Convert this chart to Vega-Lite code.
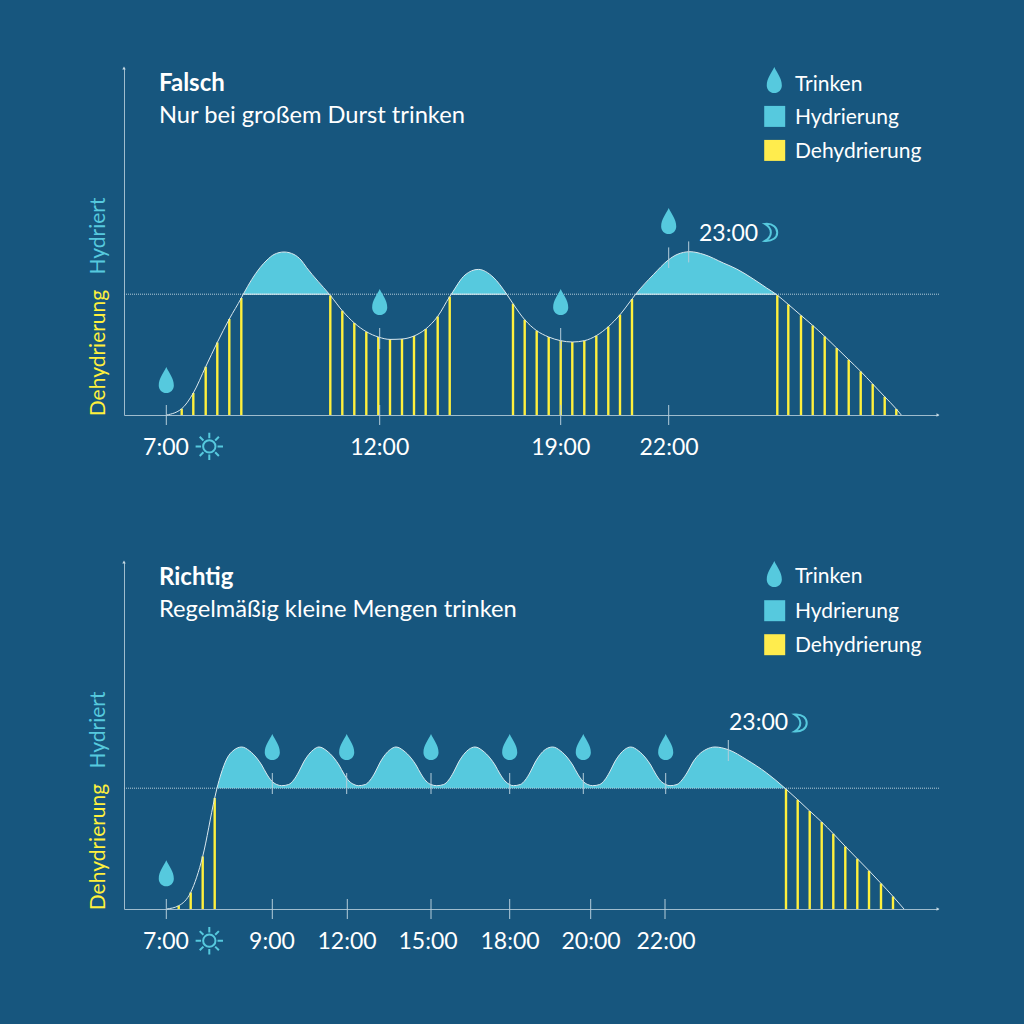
{"$schema":"https://vega.github.io/schema/vega-lite/v6.json","background":"#17567e","padding":{"left":88,"right":83,"top":66,"bottom":69},"bounds":"flush","config":{"view":{"stroke":null},"text":{"font":"Lato"}},"data":{"values":[
{"panel":"Falsch","kind":"curve","t":42.7,"level":0},
{"panel":"Falsch","kind":"curve","t":57.7,"level":6.3,"stripe":1},
{"panel":"Falsch","kind":"curve","t":69.3,"level":22,"stripe":1},
{"panel":"Falsch","kind":"curve","t":81.7,"level":48.3,"stripe":1},
{"panel":"Falsch","kind":"curve","t":93.3,"level":72.6,"stripe":1},
{"panel":"Falsch","kind":"curve","t":105.3,"level":96,"stripe":1},
{"panel":"Falsch","kind":"curve","t":117.3,"level":117,"stripe":1},
{"panel":"Falsch","kind":"curve","t":119.3,"level":120.8,"seg":1},
{"panel":"Falsch","kind":"curve","t":136,"level":147.3,"seg":1},
{"panel":"Falsch","kind":"curve","t":143,"level":155,"seg":1},
{"panel":"Falsch","kind":"curve","t":150,"level":160.5,"seg":1},
{"panel":"Falsch","kind":"curve","t":160,"level":163,"seg":1},
{"panel":"Falsch","kind":"curve","t":170,"level":160.5,"seg":1},
{"panel":"Falsch","kind":"curve","t":177,"level":155,"seg":1},
{"panel":"Falsch","kind":"curve","t":182.7,"level":147.3,"seg":1},
{"panel":"Falsch","kind":"curve","t":205.3,"level":120.8,"seg":1},
{"panel":"Falsch","kind":"curve","t":206.3,"level":119.6,"stripe":1},
{"panel":"Falsch","kind":"curve","t":218.3,"level":104.3,"stripe":1},
{"panel":"Falsch","kind":"curve","t":230.3,"level":92,"stripe":1},
{"panel":"Falsch","kind":"curve","t":242.3,"level":83.3,"stripe":1},
{"panel":"Falsch","kind":"curve","t":254.3,"level":78,"stripe":1},
{"panel":"Falsch","kind":"curve","t":266,"level":75.6,"stripe":1},
{"panel":"Falsch","kind":"curve","t":278,"level":76,"stripe":1},
{"panel":"Falsch","kind":"curve","t":290,"level":79,"stripe":1},
{"panel":"Falsch","kind":"curve","t":301.7,"level":86,"stripe":1},
{"panel":"Falsch","kind":"curve","t":313.7,"level":98.6,"stripe":1},
{"panel":"Falsch","kind":"curve","t":325.7,"level":118.4,"stripe":1},
{"panel":"Falsch","kind":"curve","t":327.3,"level":120.8,"seg":2},
{"panel":"Falsch","kind":"curve","t":341,"level":140,"seg":2},
{"panel":"Falsch","kind":"curve","t":354.3,"level":145.6,"seg":2},
{"panel":"Falsch","kind":"curve","t":369,"level":138,"seg":2},
{"panel":"Falsch","kind":"curve","t":382.7,"level":120.8,"seg":2},
{"panel":"Falsch","kind":"curve","t":389,"level":111.3,"stripe":1},
{"panel":"Falsch","kind":"curve","t":400.7,"level":95.3,"stripe":1},
{"panel":"Falsch","kind":"curve","t":412.7,"level":84.3,"stripe":1},
{"panel":"Falsch","kind":"curve","t":424.7,"level":78,"stripe":1},
{"panel":"Falsch","kind":"curve","t":436.7,"level":74.3,"stripe":1},
{"panel":"Falsch","kind":"curve","t":448.3,"level":73,"stripe":1},
{"panel":"Falsch","kind":"curve","t":460.3,"level":74.3,"stripe":1},
{"panel":"Falsch","kind":"curve","t":472.3,"level":79.3,"stripe":1},
{"panel":"Falsch","kind":"curve","t":484.3,"level":88.3,"stripe":1},
{"panel":"Falsch","kind":"curve","t":496,"level":100.3,"stripe":1},
{"panel":"Falsch","kind":"curve","t":508,"level":116,"stripe":1},
{"panel":"Falsch","kind":"curve","t":511.7,"level":120.8,"seg":3},
{"panel":"Falsch","kind":"curve","t":529.3,"level":140.3,"seg":3},
{"panel":"Falsch","kind":"curve","t":544.7,"level":155.3,"seg":3},
{"panel":"Falsch","kind":"curve","t":553,"level":160.5,"seg":3},
{"panel":"Falsch","kind":"curve","t":566,"level":163.3,"seg":3},
{"panel":"Falsch","kind":"curve","t":580,"level":160.5,"seg":3},
{"panel":"Falsch","kind":"curve","t":599.3,"level":152,"seg":3},
{"panel":"Falsch","kind":"curve","t":612.7,"level":146,"seg":3},
{"panel":"Falsch","kind":"curve","t":629.3,"level":136,"seg":3},
{"panel":"Falsch","kind":"curve","t":642.7,"level":127,"seg":3},
{"panel":"Falsch","kind":"curve","t":652,"level":120.8,"seg":3},
{"panel":"Falsch","kind":"curve","t":653.3,"level":119.8,"stripe":1},
{"panel":"Falsch","kind":"curve","t":664.3,"level":110.6,"stripe":1},
{"panel":"Falsch","kind":"curve","t":677,"level":99.6,"stripe":1},
{"panel":"Falsch","kind":"curve","t":688.7,"level":89.6,"stripe":1},
{"panel":"Falsch","kind":"curve","t":700.7,"level":78.6,"stripe":1},
{"panel":"Falsch","kind":"curve","t":712.7,"level":67,"stripe":1},
{"panel":"Falsch","kind":"curve","t":724.7,"level":55.3,"stripe":1},
{"panel":"Falsch","kind":"curve","t":736.7,"level":43.6,"stripe":1},
{"panel":"Falsch","kind":"curve","t":748.7,"level":31,"stripe":1},
{"panel":"Falsch","kind":"curve","t":760.7,"level":18.3,"stripe":1},
{"panel":"Falsch","kind":"curve","t":772.3,"level":6,"stripe":1},
{"panel":"Falsch","kind":"curve","t":777.3,"level":0},
{"panel":"Richtig","kind":"curve","t":42.7,"level":0},
{"panel":"Richtig","kind":"curve","t":54.7,"level":3.3,"stripe":1},
{"panel":"Richtig","kind":"curve","t":66.7,"level":16.6,"stripe":1},
{"panel":"Richtig","kind":"curve","t":78.7,"level":52.6,"stripe":1},
{"panel":"Richtig","kind":"curve","t":90.7,"level":111,"stripe":1},
{"panel":"Richtig","kind":"curve","t":93,"level":120.8,"seg":1},
{"panel":"Richtig","kind":"curve","t":97,"level":135,"seg":1},
{"panel":"Richtig","kind":"curve","t":102.7,"level":150,"seg":1},
{"panel":"Richtig","kind":"curve","t":110,"level":159,"seg":1},
{"panel":"Richtig","kind":"curve","t":117.7,"level":162,"seg":1},
{"panel":"Richtig","kind":"curve","t":125.7,"level":158,"seg":1},
{"panel":"Richtig","kind":"curve","t":132.7,"level":151,"seg":1},
{"panel":"Richtig","kind":"curve","t":137.7,"level":144,"seg":1},
{"panel":"Richtig","kind":"curve","t":142.7,"level":135,"seg":1},
{"panel":"Richtig","kind":"curve","t":147.7,"level":128,"seg":1},
{"panel":"Richtig","kind":"curve","t":152.7,"level":124.5,"seg":1},
{"panel":"Richtig","kind":"curve","t":157.7,"level":123.3,"seg":1},
{"panel":"Richtig","kind":"curve","t":164.7,"level":124.5,"seg":1},
{"panel":"Richtig","kind":"curve","t":169.7,"level":129,"seg":1},
{"panel":"Richtig","kind":"curve","t":174.7,"level":137,"seg":1},
{"panel":"Richtig","kind":"curve","t":179.7,"level":147,"seg":1},
{"panel":"Richtig","kind":"curve","t":184.7,"level":154.5,"seg":1},
{"panel":"Richtig","kind":"curve","t":189.7,"level":159.5,"seg":1},
{"panel":"Richtig","kind":"curve","t":195,"level":162,"seg":1},
{"panel":"Richtig","kind":"curve","t":203,"level":158,"seg":1},
{"panel":"Richtig","kind":"curve","t":210,"level":151,"seg":1},
{"panel":"Richtig","kind":"curve","t":215,"level":144,"seg":1},
{"panel":"Richtig","kind":"curve","t":220,"level":135,"seg":1},
{"panel":"Richtig","kind":"curve","t":225,"level":128,"seg":1},
{"panel":"Richtig","kind":"curve","t":230,"level":124.5,"seg":1},
{"panel":"Richtig","kind":"curve","t":234.3,"level":123.3,"seg":1},
{"panel":"Richtig","kind":"curve","t":241.3,"level":124.5,"seg":1},
{"panel":"Richtig","kind":"curve","t":246.3,"level":129,"seg":1},
{"panel":"Richtig","kind":"curve","t":251.3,"level":137,"seg":1},
{"panel":"Richtig","kind":"curve","t":256.3,"level":147,"seg":1},
{"panel":"Richtig","kind":"curve","t":261.3,"level":154.5,"seg":1},
{"panel":"Richtig","kind":"curve","t":266.3,"level":159.5,"seg":1},
{"panel":"Richtig","kind":"curve","t":272,"level":162,"seg":1},
{"panel":"Richtig","kind":"curve","t":280,"level":158,"seg":1},
{"panel":"Richtig","kind":"curve","t":287,"level":151,"seg":1},
{"panel":"Richtig","kind":"curve","t":292,"level":144,"seg":1},
{"panel":"Richtig","kind":"curve","t":297,"level":135,"seg":1},
{"panel":"Richtig","kind":"curve","t":302,"level":128,"seg":1},
{"panel":"Richtig","kind":"curve","t":307,"level":124.5,"seg":1},
{"panel":"Richtig","kind":"curve","t":312.7,"level":123.3,"seg":1},
{"panel":"Richtig","kind":"curve","t":319.7,"level":124.5,"seg":1},
{"panel":"Richtig","kind":"curve","t":324.7,"level":129,"seg":1},
{"panel":"Richtig","kind":"curve","t":329.7,"level":137,"seg":1},
{"panel":"Richtig","kind":"curve","t":334.7,"level":147,"seg":1},
{"panel":"Richtig","kind":"curve","t":339.7,"level":154.5,"seg":1},
{"panel":"Richtig","kind":"curve","t":344.7,"level":159.5,"seg":1},
{"panel":"Richtig","kind":"curve","t":351,"level":162,"seg":1},
{"panel":"Richtig","kind":"curve","t":359,"level":158,"seg":1},
{"panel":"Richtig","kind":"curve","t":366,"level":151,"seg":1},
{"panel":"Richtig","kind":"curve","t":371,"level":144,"seg":1},
{"panel":"Richtig","kind":"curve","t":376,"level":135,"seg":1},
{"panel":"Richtig","kind":"curve","t":381,"level":128,"seg":1},
{"panel":"Richtig","kind":"curve","t":385.5,"level":124.5,"seg":1},
{"panel":"Richtig","kind":"curve","t":389.3,"level":123.3,"seg":1},
{"panel":"Richtig","kind":"curve","t":396.3,"level":124.5,"seg":1},
{"panel":"Richtig","kind":"curve","t":401.3,"level":129,"seg":1},
{"panel":"Richtig","kind":"curve","t":406.3,"level":137,"seg":1},
{"panel":"Richtig","kind":"curve","t":411.3,"level":147,"seg":1},
{"panel":"Richtig","kind":"curve","t":416.3,"level":154.5,"seg":1},
{"panel":"Richtig","kind":"curve","t":421.3,"level":159.5,"seg":1},
{"panel":"Richtig","kind":"curve","t":428.7,"level":162,"seg":1},
{"panel":"Richtig","kind":"curve","t":436.7,"level":158,"seg":1},
{"panel":"Richtig","kind":"curve","t":443.7,"level":151,"seg":1},
{"panel":"Richtig","kind":"curve","t":448.7,"level":144,"seg":1},
{"panel":"Richtig","kind":"curve","t":453.7,"level":135,"seg":1},
{"panel":"Richtig","kind":"curve","t":458.7,"level":128,"seg":1},
{"panel":"Richtig","kind":"curve","t":463.7,"level":124.5,"seg":1},
{"panel":"Richtig","kind":"curve","t":468.7,"level":123.3,"seg":1},
{"panel":"Richtig","kind":"curve","t":475.7,"level":124.5,"seg":1},
{"panel":"Richtig","kind":"curve","t":480.7,"level":129,"seg":1},
{"panel":"Richtig","kind":"curve","t":485.7,"level":137,"seg":1},
{"panel":"Richtig","kind":"curve","t":490.7,"level":147,"seg":1},
{"panel":"Richtig","kind":"curve","t":495.7,"level":154.5,"seg":1},
{"panel":"Richtig","kind":"curve","t":500.7,"level":159.5,"seg":1},
{"panel":"Richtig","kind":"curve","t":506.7,"level":162,"seg":1},
{"panel":"Richtig","kind":"curve","t":514.7,"level":158,"seg":1},
{"panel":"Richtig","kind":"curve","t":521.7,"level":151,"seg":1},
{"panel":"Richtig","kind":"curve","t":526.7,"level":144,"seg":1},
{"panel":"Richtig","kind":"curve","t":531.7,"level":135,"seg":1},
{"panel":"Richtig","kind":"curve","t":536.7,"level":128,"seg":1},
{"panel":"Richtig","kind":"curve","t":541.7,"level":124.5,"seg":1},
{"panel":"Richtig","kind":"curve","t":546,"level":123.3,"seg":1},
{"panel":"Richtig","kind":"curve","t":553,"level":124.5,"seg":1},
{"panel":"Richtig","kind":"curve","t":558,"level":129,"seg":1},
{"panel":"Richtig","kind":"curve","t":563.5,"level":137,"seg":1},
{"panel":"Richtig","kind":"curve","t":569,"level":147,"seg":1},
{"panel":"Richtig","kind":"curve","t":575,"level":154.5,"seg":1},
{"panel":"Richtig","kind":"curve","t":582,"level":159.5,"seg":1},
{"panel":"Richtig","kind":"curve","t":591,"level":162,"seg":1},
{"panel":"Richtig","kind":"curve","t":604.3,"level":159.3,"seg":1},
{"panel":"Richtig","kind":"curve","t":622.7,"level":149.3,"seg":1},
{"panel":"Richtig","kind":"curve","t":642.7,"level":136,"seg":1},
{"panel":"Richtig","kind":"curve","t":661,"level":120.8,"seg":1},
{"panel":"Richtig","kind":"curve","t":662,"level":119.9,"stripe":1},
{"panel":"Richtig","kind":"curve","t":673.7,"level":109.3,"stripe":1},
{"panel":"Richtig","kind":"curve","t":685.7,"level":98,"stripe":1},
{"panel":"Richtig","kind":"curve","t":697.7,"level":87,"stripe":1},
{"panel":"Richtig","kind":"curve","t":709.3,"level":75.3,"stripe":1},
{"panel":"Richtig","kind":"curve","t":721.3,"level":62.6,"stripe":1},
{"panel":"Richtig","kind":"curve","t":733.3,"level":50.3,"stripe":1},
{"panel":"Richtig","kind":"curve","t":745,"level":38.3,"stripe":1},
{"panel":"Richtig","kind":"curve","t":757,"level":25.6,"stripe":1},
{"panel":"Richtig","kind":"curve","t":769,"level":12.6,"stripe":1},
{"panel":"Richtig","kind":"curve","t":780,"level":0},
{"panel":"Falsch","kind":"threshold","t":0,"t2":816,"level":120.8},
{"panel":"Richtig","kind":"threshold","t":0,"t2":816,"level":120.8},
{"panel":"Falsch","kind":"base","t":119.3,"t2":205.3,"level":120.8},
{"panel":"Falsch","kind":"base","t":327.3,"t2":382.7,"level":120.8},
{"panel":"Falsch","kind":"base","t":511.7,"t2":652,"level":120.8},
{"panel":"Falsch","kind":"arrowX","t":814,"level":0},
{"panel":"Richtig","kind":"arrowX","t":814,"level":0},
{"panel":"Falsch","kind":"arrowY","t":0,"level":347},
{"panel":"Richtig","kind":"arrowY","t":0,"level":347},
{"panel":"Falsch","kind":"tick","t":42.3,"level":10,"level2":-10},
{"panel":"Falsch","kind":"tick","t":255.7,"level":10,"level2":-10},
{"panel":"Falsch","kind":"tick","t":255.7,"level":87,"level2":66},
{"panel":"Falsch","kind":"tick","t":436.7,"level":10,"level2":-10},
{"panel":"Falsch","kind":"tick","t":436.7,"level":87,"level2":66},
{"panel":"Falsch","kind":"tick","t":544.7,"level":10,"level2":-10},
{"panel":"Falsch","kind":"tick","t":544.7,"level":167.6,"level2":147},
{"panel":"Falsch","kind":"tick","t":564.7,"level":173.6,"level2":152.6},
{"panel":"Richtig","kind":"tick","t":42.3,"level":10,"level2":-10},
{"panel":"Richtig","kind":"tick","t":148.3,"level":10,"level2":-10},
{"panel":"Richtig","kind":"tick","t":223.3,"level":10,"level2":-10},
{"panel":"Richtig","kind":"tick","t":307,"level":10,"level2":-10},
{"panel":"Richtig","kind":"tick","t":385.7,"level":10,"level2":-10},
{"panel":"Richtig","kind":"tick","t":466.7,"level":10,"level2":-10},
{"panel":"Richtig","kind":"tick","t":541,"level":10,"level2":-10},
{"panel":"Richtig","kind":"tick","t":148.3,"level":136,"level2":115},
{"panel":"Richtig","kind":"tick","t":222.7,"level":136,"level2":115},
{"panel":"Richtig","kind":"tick","t":307,"level":136,"level2":115},
{"panel":"Richtig","kind":"tick","t":385.7,"level":136,"level2":115},
{"panel":"Richtig","kind":"tick","t":459.3,"level":136,"level2":115},
{"panel":"Richtig","kind":"tick","t":541.7,"level":136,"level2":115},
{"panel":"Richtig","kind":"tick","t":604.3,"level":169,"level2":148},
{"panel":"Falsch","kind":"drop","t":42.3,"level":35},
{"panel":"Falsch","kind":"drop","t":255.7,"level":113},
{"panel":"Falsch","kind":"drop","t":436.7,"level":113},
{"panel":"Falsch","kind":"drop","t":544.7,"level":194},
{"panel":"Falsch","kind":"drop","t":650.3,"level":335},
{"panel":"Richtig","kind":"drop","t":42.3,"level":35.8},
{"panel":"Richtig","kind":"drop","t":148.3,"level":162},
{"panel":"Richtig","kind":"drop","t":222.7,"level":162},
{"panel":"Richtig","kind":"drop","t":307,"level":162},
{"panel":"Richtig","kind":"drop","t":385.7,"level":162},
{"panel":"Richtig","kind":"drop","t":459.3,"level":162},
{"panel":"Richtig","kind":"drop","t":541.7,"level":162},
{"panel":"Richtig","kind":"drop","t":650.3,"level":335},
{"panel":"Falsch","kind":"swatchH","t":650.7,"level":298.6},
{"panel":"Richtig","kind":"swatchH","t":650.7,"level":298.3},
{"panel":"Falsch","kind":"swatchD","t":650.7,"level":264.6},
{"panel":"Richtig","kind":"swatchD","t":650.7,"level":264.3},
{"panel":"Falsch","kind":"sun","t":85.3,"level":-31.4},
{"panel":"Richtig","kind":"sun","t":85.3,"level":-31.7},
{"panel":"Falsch","kind":"moon","t":646,"level":182.6},
{"panel":"Richtig","kind":"moon","t":675.5,"level":186},
{"panel":"Falsch","kind":"title","t":35,"level":331.5,"label":"Falsch"},
{"panel":"Falsch","kind":"subtitle","t":35,"level":299,"label":"Nur bei großem Durst trinken"},
{"panel":"Richtig","kind":"title","t":35,"level":331.5,"label":"Richtig"},
{"panel":"Richtig","kind":"subtitle","t":35,"level":299,"label":"Regelmäßig kleine Mengen trinken"},
{"panel":"Falsch","kind":"legend","t":671,"level":330,"label":"Trinken"},
{"panel":"Falsch","kind":"legend","t":671,"level":297,"label":"Hydrierung"},
{"panel":"Falsch","kind":"legend","t":671,"level":263,"label":"Dehydrierung"},
{"panel":"Richtig","kind":"legend","t":671,"level":332,"label":"Trinken"},
{"panel":"Richtig","kind":"legend","t":671,"level":297,"label":"Hydrierung"},
{"panel":"Richtig","kind":"legend","t":671,"level":263,"label":"Dehydrierung"},
{"panel":"Falsch","kind":"time","t":42,"level":-33,"label":"7:00"},
{"panel":"Falsch","kind":"time","t":255.7,"level":-33,"label":"12:00"},
{"panel":"Falsch","kind":"time","t":436.7,"level":-33,"label":"19:00"},
{"panel":"Falsch","kind":"time","t":545,"level":-33,"label":"22:00"},
{"panel":"Richtig","kind":"time","t":42,"level":-33,"label":"7:00"},
{"panel":"Richtig","kind":"time","t":148,"level":-33,"label":"9:00"},
{"panel":"Richtig","kind":"time","t":223,"level":-33,"label":"12:00"},
{"panel":"Richtig","kind":"time","t":304,"level":-33,"label":"15:00"},
{"panel":"Richtig","kind":"time","t":386,"level":-33,"label":"18:00"},
{"panel":"Richtig","kind":"time","t":467,"level":-33,"label":"20:00"},
{"panel":"Richtig","kind":"time","t":542,"level":-33,"label":"22:00"},
{"panel":"Falsch","kind":"bedtime","t":575,"level":181,"label":"23:00"},
{"panel":"Richtig","kind":"bedtime","t":605,"level":186,"label":"23:00"},
{"panel":"Falsch","kind":"axisH","t":-25,"level":179,"label":"Hydriert"},
{"panel":"Richtig","kind":"axisH","t":-25,"level":179,"label":"Hydriert"},
{"panel":"Falsch","kind":"axisD","t":-25,"level":62,"label":"Dehydrierung"},
{"panel":"Richtig","kind":"axisD","t":-25,"level":62,"label":"Dehydrierung"}
]},
"facet":{"row":{"field":"panel","type":"nominal","header":{"title":null,"labels":false}}},
"spacing":{"row":147},
"resolve":{"axis":{"x":"independent","y":"independent"}},
"spec":{"width":814,"height":347,
"encoding":{"x":{"field":"t","type":"quantitative","scale":{"domain":[0,814]},"axis":{"title":null,"labels":false,"ticks":false,"grid":false,"domainColor":"#9fbccd","domainWidth":1}},"y":{"field":"level","type":"quantitative","scale":{"domain":[0,347]},"axis":{"title":null,"labels":false,"ticks":false,"grid":false,"domainColor":"#9fbccd","domainWidth":1}}},
"layer":[
{"transform":[{"filter":"datum.kind=='curve' && isValid(datum.seg)"}],"mark":{"type":"area","interpolate":"monotone","color":"#56c9de"},"encoding":{"y2":{"datum":120.8},"detail":{"field":"seg"}}},
{"transform":[{"filter":"datum.kind=='threshold'"}],"mark":{"type":"rule","color":"#b5cdda","strokeDash":[1,1],"strokeWidth":1},"encoding":{"x2":{"field":"t2"}}},
{"transform":[{"filter":"datum.kind=='base'"}],"mark":{"type":"rule","color":"#e6f3f7","strokeWidth":1},"encoding":{"x2":{"field":"t2"}}},
{"transform":[{"filter":"datum.stripe==1"}],"mark":{"type":"rule","color":"#fff03c","strokeWidth":2.4},"encoding":{"y2":{"datum":0}}},
{"transform":[{"filter":"datum.kind=='curve'"}],"mark":{"type":"line","interpolate":"monotone","color":"#dbe9ef","strokeWidth":1}},
{"transform":[{"filter":"datum.kind=='tick'"}],"mark":{"type":"rule","color":"#b5cdda","strokeWidth":1},"encoding":{"y2":{"field":"level2"}}},
{"transform":[{"filter":"datum.kind=='arrowX'"}],"mark":{"type":"point","shape":"triangle-right","size":12,"filled":true,"opacity":1,"color":"#c6d9e3"}},
{"transform":[{"filter":"datum.kind=='arrowY'"}],"mark":{"type":"point","shape":"triangle-up","size":12,"filled":true,"opacity":1,"color":"#c6d9e3"}},
{"transform":[{"filter":"datum.kind=='drop'"}],"mark":{"type":"point","filled":true,"opacity":1,"color":"#56c9de","size":676,"shape":"M0,-1 C0.2,-0.55 0.58,-0.15 0.58,0.42 C0.58,0.75 0.32,1 0,1 C-0.32,1 -0.58,0.75 -0.58,0.42 C-0.58,-0.15 -0.2,-0.55 0,-1 Z"}},
{"transform":[{"filter":"datum.kind=='swatchH'"}],"mark":{"type":"point","filled":true,"opacity":1,"color":"#56c9de","size":441,"shape":"square"}},
{"transform":[{"filter":"datum.kind=='swatchD'"}],"mark":{"type":"point","filled":true,"opacity":1,"color":"#ffec4d","size":441,"shape":"square"}},
{"transform":[{"filter":"datum.kind=='sun'"}],"mark":{"type":"point","filled":false,"opacity":1,"color":"#56c9de","strokeWidth":2,"size":750,"shape":"M0.45,0 C0.45,0.25 0.25,0.45 0,0.45 C-0.25,0.45 -0.45,0.25 -0.45,0 C-0.45,-0.25 -0.25,-0.45 0,-0.45 C0.25,-0.45 0.45,-0.25 0.45,0 Z M0,-1 L0,-0.6 M0,1 L0,0.6 M1,0 L0.6,0 M-1,0 L-0.6,0 M0.7,-0.7 L0.43,-0.43 M-0.7,-0.7 L-0.43,-0.43 M0.7,0.7 L0.43,0.43 M-0.7,0.7 L-0.43,0.43"}},
{"transform":[{"filter":"datum.kind=='moon'"}],"mark":{"type":"point","filled":false,"opacity":1,"color":"#56c9de","strokeWidth":2,"size":289,"shape":"M-0.6,-1 C0.4,-1.1 0.85,-0.5 0.85,0 C0.85,0.6 0.3,1.05 -0.6,1 C-0.1,0.7 0.1,0.3 0.1,0 C0.1,-0.35 -0.1,-0.7 -0.6,-1 Z"}},
{"transform":[{"filter":"datum.kind=='title'"}],"mark":{"type":"text","align":"left","baseline":"middle","fontSize":24,"fontWeight":"bold","color":"#ffffff"},"encoding":{"text":{"field":"label"}}},
{"transform":[{"filter":"datum.kind=='subtitle'"}],"mark":{"type":"text","align":"left","baseline":"middle","fontSize":23.7,"color":"#ffffff"},"encoding":{"text":{"field":"label"}}},
{"transform":[{"filter":"datum.kind=='legend'"}],"mark":{"type":"text","align":"left","baseline":"middle","fontSize":21,"color":"#ffffff"},"encoding":{"text":{"field":"label"}}},
{"transform":[{"filter":"datum.kind=='time'"}],"mark":{"type":"text","align":"center","baseline":"middle","fontSize":23,"color":"#ffffff"},"encoding":{"text":{"field":"label"}}},
{"transform":[{"filter":"datum.kind=='bedtime'"}],"mark":{"type":"text","align":"left","baseline":"middle","fontSize":23,"color":"#ffffff"},"encoding":{"text":{"field":"label"}}},
{"transform":[{"filter":"datum.kind=='axisH'"}],"mark":{"type":"text","align":"center","baseline":"middle","angle":270,"fontSize":21,"color":"#56c9de"},"encoding":{"text":{"field":"label"}}},
{"transform":[{"filter":"datum.kind=='axisD'"}],"mark":{"type":"text","align":"center","baseline":"middle","angle":270,"fontSize":21,"color":"#fff03c"},"encoding":{"text":{"field":"label"}}}
]}}
